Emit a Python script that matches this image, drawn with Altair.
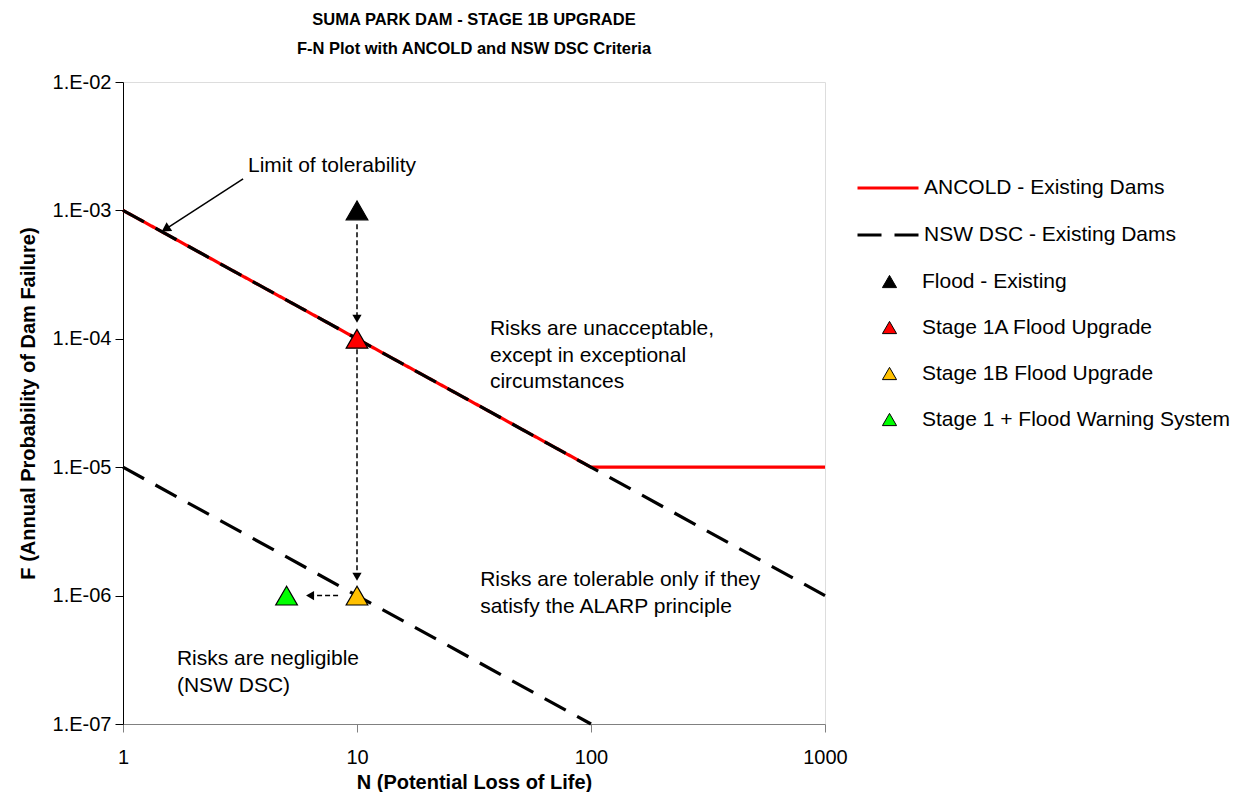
import altair as alt
import pandas as pd

FONT = "Liberation Sans"

# ---- text ----
title_lines = ["SUMA PARK DAM - STAGE 1B UPGRADE", "F-N Plot with ANCOLD and NSW DSC Criteria"]
x_title = "N (Potential Loss of Life)"
y_title = "F (Annual Probability of Dam Failure)"

# ---- axes ----
x_ticks = [1, 10, 100, 1000]
y_ticks = [1e-7, 1e-6, 1e-5, 1e-4, 1e-3, 1e-2]
y_tick_labels = ["1.E-07", "1.E-06", "1.E-05", "1.E-04", "1.E-03", "1.E-02"]

# ---- criteria lines ----
line_series = ["ANCOLD - Existing Dams", "NSW DSC - Existing Dams"]
line_colors = ["#FF0000", "#000000"]
ancold_n = [1, 100, 1000]
ancold_f = [1e-3, 1e-5, 1e-5]
nsw_upper_n = [1, 1000]
nsw_upper_f = [1e-3, 1e-6]
nsw_lower_n = [1, 100]
nsw_lower_f = [1e-5, 1e-7]

# ---- scenarios ----
scenarios = ["Flood - Existing", "Stage 1A Flood Upgrade", "Stage 1B Flood Upgrade",
             "Stage 1 + Flood Warning System"]
scenario_n = [10, 10, 10, 5]
scenario_f = [1e-3, 1e-4, 1e-6, 1e-6]
scenario_colors = ["#000000", "#FF0000", "#FFC000", "#00FF00"]

# ---- dashed arrows between scenarios ----
arrow_n1 = [10, 10, 8.3]
arrow_f1 = [7.8e-4, 8.3e-5, 1e-6]
arrow_n2 = [10, 10, 6.3]
arrow_f2 = [1.43e-4, 1.40e-6, 1e-6]
arrow_dir = [180, 180, 270]

# ---- "Limit of tolerability" pointer ----
limit_n1 = [3.26]
limit_f1 = [1.76e-3]
limit_n2 = [1.52]
limit_f2 = [7.16e-4]
limit_dir = [237.8]

# ---- annotations ----
note_text = ["Limit of tolerability",
             "Risks are unacceptable,", "except in exceptional", "circumstances",
             "Risks are tolerable only if they", "satisfy the ALARP principle",
             "Risks are negligible", "(NSW DSC)"]
note_n = [3.42, 37.0, 37.0, 37.0, 33.6, 33.6, 1.70, 1.70]
note_f = [2.22e-3, 1.19e-4, 7.35e-5, 4.61e-5, 1.32e-6, 8.15e-7, 3.21e-7, 1.98e-7]

# ---- tables ----
rows = []
k = 0
for n, f in zip(ancold_n, ancold_f):
    rows.append({"series": line_series[0], "seg": "a", "n": n, "f": f, "k": k}); k += 1
for n, f in zip(nsw_upper_n, nsw_upper_f):
    rows.append({"series": line_series[1], "seg": "b", "n": n, "f": f, "k": k}); k += 1
for n, f in zip(nsw_lower_n, nsw_lower_f):
    rows.append({"series": line_series[1], "seg": "c", "n": n, "f": f, "k": k}); k += 1
lines_df = pd.DataFrame(rows)

pts_df = pd.DataFrame({"scenario": scenarios, "n": scenario_n, "f": scenario_f})
arr_df = pd.DataFrame({"n": arrow_n1, "f": arrow_f1, "n2": arrow_n2, "f2": arrow_f2, "dir": arrow_dir})
lim_df = pd.DataFrame({"n": limit_n1, "f": limit_f1, "n2": limit_n2, "f2": limit_f2, "dir": limit_dir})
note_df = pd.DataFrame({"t": note_text, "n": note_n, "f": note_f})

label_list = "[" + ",".join("'%s'" % s for s in y_tick_labels) + "]"

xscale = alt.Scale(type="log", domain=[x_ticks[0], x_ticks[-1]], nice=False)
yscale = alt.Scale(type="log", domain=[y_ticks[0], y_ticks[-1]], nice=False)

xaxis = alt.Axis(values=x_ticks, format="d", grid=False, domainColor="#808080", tickColor="#808080",
                 tickSize=8, labelFontSize=20, labelPadding=15, labelColor="black",
                 titleFontSize=20, titleFontWeight="bold", titlePadding=5, titleColor="black",
                 labelFont=FONT, titleFont=FONT, labelFlush=False)
yaxis = alt.Axis(values=y_ticks, labelExpr=label_list + "[round(log(datum.value)/LN10)+7]",
                 grid=False, domainColor="black", tickColor="black", tickSize=8,
                 labelFontSize=20, labelPadding=4, labelColor="black",
                 titleFontSize=20, titleFontWeight="bold", titlePadding=14, titleColor="black",
                 labelFont=FONT, titleFont=FONT)

X = alt.X("n:Q", scale=xscale, axis=xaxis, title=x_title)
Y = alt.Y("f:Q", scale=yscale, axis=yaxis, title=y_title)
Xp = alt.X("n:Q", scale=xscale)
Yp = alt.Y("f:Q", scale=yscale)

line_legend = alt.Legend(title=None, orient="none", legendX=733, legendY=74, symbolType="stroke",
                         symbolSize=3721, symbolStrokeWidth=3, labelFontSize=21, labelFont=FONT,
                         labelOffset=4, rowPadding=5, padding=0, labelLimit=500, labelColor="black")

lines = alt.Chart(lines_df).mark_line(strokeWidth=3.2).encode(
    x=X, y=Y,
    stroke=alt.Stroke("series:N", scale=alt.Scale(domain=line_series, range=line_colors), legend=line_legend),
    strokeDash=alt.StrokeDash("series:N", scale=alt.Scale(domain=line_series, range=[[1, 0], [24, 13]]),
                              legend=line_legend),
    detail="seg:N",
    order="k:Q",
)

arrows = alt.Chart(arr_df).mark_rule(color="black", strokeWidth=1.5, strokeDash=[5, 3]).encode(
    x=Xp, y=Yp, x2="n2:Q", y2="f2:Q")
heads = alt.Chart(arr_df).mark_point(shape="triangle-up", filled=True, color="black", size=85, opacity=1).encode(
    x=alt.X("n2:Q", scale=xscale), y=alt.Y("f2:Q", scale=yscale), angle=alt.Angle("dir:Q", scale=None))

limit_line = alt.Chart(lim_df).mark_rule(color="black", strokeWidth=1.5).encode(
    x=Xp, y=Yp, x2="n2:Q", y2="f2:Q")
limit_head = alt.Chart(lim_df).mark_point(shape="triangle-up", filled=True, color="black", size=110, opacity=1).encode(
    x=alt.X("n2:Q", scale=xscale), y=alt.Y("f2:Q", scale=yscale), angle=alt.Angle("dir:Q", scale=None))

pt_legend = alt.Legend(title=None, orient="none", legendX=756, legendY=189, symbolType="triangle-up",
                       symbolSize=200, symbolStrokeColor="black", symbolStrokeWidth=1,
                       labelFontSize=21, labelFont=FONT, labelOffset=22, rowPadding=24, padding=0,
                       labelLimit=500, labelColor="black")

points = alt.Chart(pts_df).mark_point(shape="triangle-up", filled=True, size=470, stroke="black",
                                      strokeWidth=1.2, opacity=1).encode(
    x=Xp, y=Yp,
    fill=alt.Fill("scenario:N", scale=alt.Scale(domain=scenarios, range=scenario_colors), legend=pt_legend),
)

notes = alt.Chart(note_df).mark_text(align="left", baseline="middle", fontSize=21, font=FONT,
                                     color="black").encode(x=Xp, y=Yp, text="t:N")

chart = alt.layer(lines, arrows, heads, limit_line, limit_head, points, notes).properties(
    width=702, height=642,
    title=alt.TitleParams(text=title_lines, fontSize=16.5, fontWeight="bold", font=FONT, lineHeight=29,
                          anchor="middle", offset=15, color="black"),
    padding={"left": 10, "top": 3, "right": 0, "bottom": 0},
).configure_view(stroke=None).configure(background="white")

chart.save("out.html", embed_options={"renderer": "svg", "actions": False})
